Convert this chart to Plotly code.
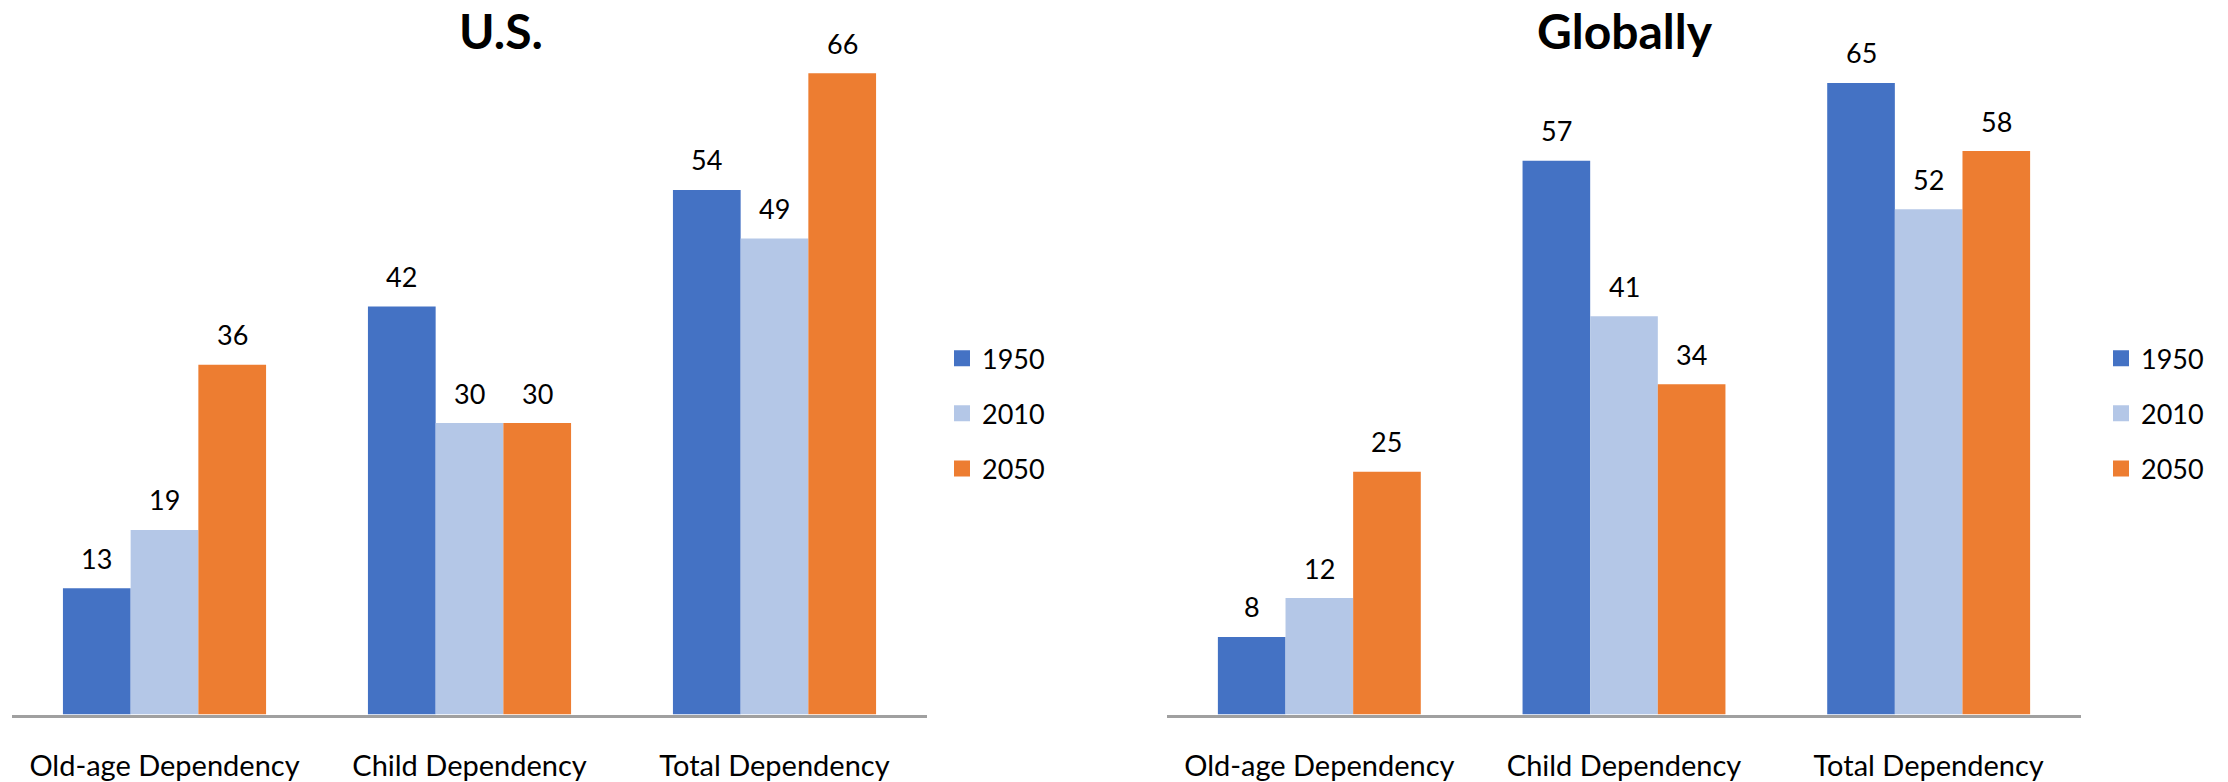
import plotly.graph_objects as go

# Dependency ratios by region and year
categories = ["Old-age Dependency", "Child Dependency", "Total Dependency"]
years = ["1950", "2010", "2050"]
us_values = {
    "1950": [13, 42, 54],
    "2010": [19, 30, 49],
    "2050": [36, 30, 66],
}
global_values = {
    "1950": [8, 57, 65],
    "2010": [12, 41, 52],
    "2050": [25, 34, 58],
}
colors = {"1950": "#4472C4", "2010": "#B4C7E7", "2050": "#ED7D31"}

W, H = 2228, 782
FONT = "Lato, Open Sans, sans-serif"
BARGAP = 0.334
X1 = [12 / W, 927 / W]
X2 = [1167 / W, 2081 / W]
Y_DOM = [60 / H, 1.0]
Y_MAX = 73.54

fig = go.Figure()

panels = [
    (us_values, "x", "y", "legend"),
    (global_values, "x2", "y2", "legend2"),
]

for values, xa, ya, leg in panels:
    for yr in years:
        fig.add_trace(go.Bar(
            x=categories, y=values[yr], name=yr,
            marker=dict(color=colors[yr], line=dict(width=0)),
            xaxis=xa, yaxis=ya, showlegend=False,
        ))
    # legend entries with larger square swatches
    for yr in years:
        fig.add_trace(go.Scatter(
            x=[None], y=[None], name=yr, mode="markers",
            marker=dict(symbol="square", size=16, color=colors[yr]),
            xaxis=xa, yaxis=ya, legend=leg, legendgroup=leg + yr,
            showlegend=True,
        ))

# value labels above each bar
annotations = []
for values, xa, ya, _ in panels:
    dom = X1 if xa == "x" else X2
    cat_px = (dom[1] - dom[0]) * W / len(categories)
    bar_px = cat_px * (1 - BARGAP) / len(years)
    for i, yr in enumerate(years):
        for cat, v in zip(categories, values[yr]):
            annotations.append(dict(
                x=cat, y=v, xref=xa, yref=ya, text=str(v), showarrow=False,
                xshift=(i - 1) * bar_px, yshift=30, yanchor="middle",
                font=dict(family=FONT, size=27, color="#000000"),
            ))

titles = [("U.S.", 501 / W), ("Globally", 1625 / W)]
for t, xc in titles:
    annotations.append(dict(
        x=xc, y=1 - 31 / H, xref="paper", yref="paper", text="<b>%s</b>" % t,
        showarrow=False, xanchor="center", yanchor="middle",
        font=dict(family=FONT, size=48, color="#000000"),
    ))

axis_common = dict(
    type="category", showline=True, linecolor="#A0A0A0", linewidth=3,
    ticks="", showgrid=False, zeroline=False,
    tickfont=dict(family=FONT, size=29, color="#000000"),
    ticklabelstandoff=24,
)
yaxis_common = dict(range=[0, Y_MAX], visible=False, showgrid=False,
                    zeroline=False, domain=Y_DOM)

legend_common = dict(
    orientation="v", yanchor="middle", y=1 - 418 / H, xanchor="left",
    font=dict(family=FONT, size=27, color="#000000"),
    tracegroupgap=17, bgcolor="rgba(0,0,0,0)", itemclick=False,
)

fig.update_layout(
    width=W, height=H,
    margin=dict(l=0, r=0, t=0, b=0),
    paper_bgcolor="white", plot_bgcolor="white",
    barmode="group", bargap=BARGAP, bargroupgap=0,
    xaxis=dict(domain=X1, anchor="y", **axis_common),
    xaxis2=dict(domain=X2, anchor="y2", **axis_common),
    yaxis=dict(anchor="x", **yaxis_common),
    yaxis2=dict(anchor="x2", **yaxis_common),
    legend=dict(x=942 / W, **legend_common),
    legend2=dict(x=2101 / W, **legend_common),
    annotations=annotations,
)

fig.write_html("out.html")
